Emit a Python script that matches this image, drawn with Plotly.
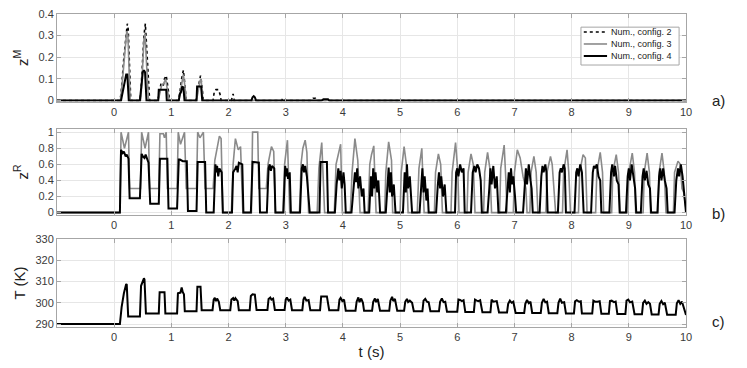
import plotly.graph_objects as go

# ---------------- data ----------------
x_ticks = [0, 1, 2, 3, 4, 5, 6, 7, 8, 9, 10]
zm_ticks = [0, 0.1, 0.2, 0.3, 0.4]
zm_ticklabels = ["0", "0.1", "0.2", "0.3", "0.4"]
zr_ticks = [0, 0.2, 0.4, 0.6, 0.8, 1]
zr_ticklabels = ["0", "0.2", "0.4", "0.6", "0.8", "1"]
t_ticks = [290, 300, 310, 320, 330]

legend_names = ["Num., config. 2", "Num., config. 3", "Num., config. 4"]

# z^M, config 2 (dotted)
zm2 = [(-1, 0), (0.10, 0), (0.12, 0.03), (0.17, 0.2), (0.23, 0.355), (0.245, 0.33), (0.29, 0),
       (0.45, 0), (0.47, 0.05), (0.52, 0.3), (0.545, 0.355), (0.57, 0.25), (0.62, 0),
       (0.76, 0), (0.78, 0.02), (0.82, 0.08), (0.86, 0.07), (0.88, 0.1), (0.91, 0.115), (0.94, 0.06), (0.97, 0),
       (1.12, 0), (1.145, 0.03), (1.18, 0.1), (1.21, 0.14), (1.23, 0.09), (1.26, 0),
       (1.43, 0), (1.45, 0.03), (1.49, 0.1), (1.51, 0.115), (1.53, 0.08), (1.56, 0),
       (1.73, 0), (1.75, 0.04), (1.78, 0.05), (1.82, 0.05), (1.85, 0.03), (1.87, 0),
       (2.05, 0), (2.07, 0.02), (2.08, 0.03), (2.10, 0),
       (2.93, 0), (2.95, 0.01), (2.97, 0),
       (3.45, 0), (3.48, 0.01), (3.52, 0.01), (3.54, 0), (10, 0)]

# z^M, config 3 (grey)
zm3 = [(-1, 0), (0.11, 0), (0.13, 0.05), (0.18, 0.22), (0.22, 0.32), (0.24, 0.3), (0.28, 0),
       (0.46, 0), (0.48, 0.06), (0.52, 0.28), (0.54, 0.31), (0.56, 0.2), (0.60, 0),
       (0.77, 0), (0.79, 0.02), (0.83, 0.07), (0.87, 0.08), (0.90, 0.1), (0.93, 0.05), (0.96, 0),
       (1.13, 0), (1.15, 0.03), (1.19, 0.1), (1.21, 0.12), (1.23, 0.08), (1.26, 0),
       (1.44, 0), (1.46, 0.03), (1.50, 0.09), (1.52, 0.1), (1.55, 0), (10, 0)]

# z^M, config 4 (black)
zm4 = [(-1, 0), (0.12, 0), (0.15, 0.04), (0.19, 0.1), (0.21, 0.12), (0.23, 0.12), (0.255, 0),
       (0.45, 0), (0.47, 0.05), (0.50, 0.13), (0.52, 0.14), (0.54, 0.13), (0.565, 0),
       (0.77, 0), (0.78, 0.05), (0.91, 0.05), (0.92, 0),
       (1.13, 0), (1.15, 0.03), (1.17, 0.04), (1.19, 0.065), (1.21, 0.06), (1.23, 0),
       (1.44, 0), (1.45, 0.065), (1.52, 0.065), (1.54, 0),
       (2.40, 0), (2.42, 0.015), (2.44, 0.02), (2.46, 0.015), (2.48, 0),
       (3.63, 0), (3.66, 0.005), (3.74, 0.005), (3.76, 0), (10, 0)]

# z^R, config 3 (grey)
zr3 = [(-1, 0), (0.10, 0),
       (0.12, 1.0), (0.18, 0.8), (0.25, 1.0), (0.27, 0.3), (0.46, 0.3),
       (0.48, 1.0), (0.54, 0.8), (0.60, 1.0), (0.62, 0.3), (0.78, 0.3),
       (0.80, 0.98), (0.86, 0.98), (0.88, 0.93), (0.91, 1.0), (0.93, 0.3), (1.10, 0.3),
       (1.12, 1.0), (1.16, 0.85), (1.23, 1.0), (1.26, 0.3), (1.44, 0.3),
       (1.46, 1.0), (1.50, 0.93), (1.56, 1.0), (1.59, 0.3), (1.73, 0.3),
       (1.76, 0.65), (1.80, 0.82), (1.84, 0.95), (1.87, 0.92), (1.90, 0), (2.05, 0),
       (2.08, 0.6), (2.12, 0.92), (2.17, 0.78), (2.21, 0.82), (2.25, 0), (2.40, 0),
       (2.42, 1.0), (2.51, 1.0), (2.53, 0.3), (2.66, 0.3),
       (2.69, 0.6), (2.75, 0.82), (2.79, 0.76), (2.82, 0), (2.95, 0),
       (2.98, 0.6), (3.03, 0.9), (3.07, 0), (3.24, 0),
       (3.27, 0.62), (3.30, 0.8), (3.34, 0.9), (3.37, 0.75), (3.40, 0), (3.55, 0),
       (3.58, 0.55), (3.63, 0.87), (3.68, 0), (3.85, 0),
       (3.88, 0.6), (3.91, 0.7), (3.96, 0.85), (3.99, 0), (4.13, 0),
       (4.16, 0.5), (4.21, 0.92), (4.26, 0.65), (4.30, 0), (4.44, 0),
       (4.47, 0.6), (4.50, 0.72), (4.54, 0.83), (4.58, 0), (4.73, 0),
       (4.75, 0.5), (4.80, 0.88), (4.85, 0.65), (4.87, 0), (5.00, 0),
       (5.02, 0.5), (5.07, 0.82), (5.11, 0.6), (5.14, 0), (5.30, 0),
       (5.33, 0.55), (5.38, 0.8), (5.42, 0), (5.60, 0),
       (5.62, 0.5), (5.67, 0.73), (5.71, 0.6), (5.74, 0), (5.89, 0),
       (5.91, 0.5), (5.97, 0.87), (6.01, 0.5), (6.03, 0), (6.17, 0),
       (6.19, 0.5), (6.24, 0.73), (6.28, 0.6), (6.31, 0), (6.46, 0),
       (6.48, 0.5), (6.53, 0.75), (6.57, 0.55), (6.60, 0), (6.74, 0),
       (6.76, 0.55), (6.82, 0.84), (6.85, 0.4), (6.87, 0), (6.98, 0),
       (7.00, 0.5), (7.05, 0.78), (7.10, 0.68), (7.15, 0.45), (7.20, 0.3), (7.22, 0), (7.27, 0),
       (7.29, 0.5), (7.34, 0.7), (7.38, 0.5), (7.41, 0), (7.55, 0),
       (7.57, 0.5), (7.63, 0.7), (7.66, 0.6), (7.69, 0.3), (7.72, 0), (7.84, 0),
       (7.86, 0.5), (7.92, 0.78), (7.95, 0.5), (7.98, 0), (8.12, 0),
       (8.14, 0.5), (8.20, 0.72), (8.24, 0.68), (8.27, 0), (8.42, 0),
       (8.44, 0.5), (8.50, 0.75), (8.54, 0.5), (8.56, 0), (8.70, 0),
       (8.72, 0.5), (8.78, 0.72), (8.82, 0.5), (8.85, 0), (8.98, 0),
       (9.00, 0.5), (9.06, 0.74), (9.10, 0.5), (9.12, 0), (9.25, 0),
       (9.27, 0.5), (9.32, 0.74), (9.36, 0.5), (9.38, 0), (9.51, 0),
       (9.53, 0.5), (9.58, 0.74), (9.62, 0.5), (9.65, 0), (9.78, 0),
       (9.80, 0.5), (9.86, 0.64), (9.90, 0.6), (9.93, 0.3), (9.96, 0.25), (10.0, 0.05)]

# z^R, config 4 (black)
zr4 = [(-1, 0), (0.10, 0),
       (0.12, 0.78), (0.15, 0.74), (0.17, 0.76), (0.20, 0.70), (0.22, 0.72), (0.25, 0.67), (0.27, 0.18), (0.45, 0.18),
       (0.48, 0.73), (0.50, 0.70), (0.53, 0.68), (0.55, 0.72), (0.60, 0.62), (0.63, 0.11), (0.78, 0.11),
       (0.80, 0.67), (0.93, 0.67), (0.95, 0.05), (1.10, 0.05),
       (1.13, 0.66), (1.15, 0.66), (1.20, 0.64), (1.27, 0.64), (1.29, 0.02), (1.44, 0.02),
       (1.46, 0.63), (1.59, 0.63), (1.61, 0), (1.74, 0),
       (1.77, 0.6), (1.79, 0.5), (1.80, 0.58), (1.82, 0.45), (1.84, 0.55), (1.88, 0.5), (1.90, 0), (2.06, 0),
       (2.08, 0.5), (2.12, 0.55), (2.14, 0.58), (2.16, 0.5), (2.18, 0.62), (2.24, 0.6), (2.26, 0), (2.39, 0),
       (2.42, 0.63), (2.53, 0.62), (2.55, 0), (2.67, 0),
       (2.70, 0.55), (2.72, 0.6), (2.74, 0.52), (2.76, 0.58), (2.80, 0.55), (2.82, 0), (2.96, 0),
       (2.99, 0.58), (3.01, 0.45), (3.02, 0.55), (3.04, 0.42), (3.07, 0.5), (3.09, 0), (3.25, 0),
       (3.28, 0.55), (3.30, 0.6), (3.32, 0.5), (3.34, 0.58), (3.37, 0.45), (3.42, 0), (3.59, 0),
       (3.61, 0.63), (3.72, 0.63), (3.74, 0), (3.86, 0),
       (3.89, 0.35), (3.92, 0.55), (3.94, 0.4), (3.96, 0.52), (3.98, 0.3), (4.01, 0.5), (4.03, 0.35), (4.05, 0), (4.15, 0),
       (4.18, 0.3), (4.21, 0.5), (4.23, 0.38), (4.25, 0.55), (4.27, 0.3), (4.30, 0.45), (4.33, 0.2), (4.36, 0.3), (4.38, 0), (4.46, 0),
       (4.49, 0.45), (4.51, 0.2), (4.53, 0.55), (4.55, 0.3), (4.57, 0.5), (4.60, 0.25), (4.62, 0.4), (4.65, 0), (4.75, 0),
       (4.78, 0.3), (4.80, 0.56), (4.82, 0.25), (4.84, 0.5), (4.86, 0.2), (4.89, 0.35), (4.92, 0), (5.05, 0),
       (5.08, 0.5), (5.10, 0.25), (5.12, 0.6), (5.14, 0.3), (5.17, 0.45), (5.19, 0.15), (5.21, 0), (5.34, 0),
       (5.37, 0.4), (5.39, 0.55), (5.41, 0.25), (5.43, 0.45), (5.46, 0.15), (5.48, 0.3), (5.50, 0), (5.63, 0),
       (5.66, 0.35), (5.68, 0.5), (5.70, 0.3), (5.72, 0.45), (5.75, 0.2), (5.78, 0.35), (5.81, 0), (5.96, 0),
       (5.98, 0.5), (6.00, 0.55), (6.02, 0.45), (6.05, 0.6), (6.08, 0.5), (6.11, 0.55), (6.13, 0), (6.24, 0),
       (6.27, 0.5), (6.30, 0.58), (6.32, 0.5), (6.35, 0.6), (6.38, 0.55), (6.41, 0.4), (6.43, 0), (6.53, 0),
       (6.56, 0.3), (6.58, 0.55), (6.60, 0.35), (6.63, 0.58), (6.66, 0.3), (6.69, 0.45), (6.72, 0), (6.85, 0),
       (6.88, 0.3), (6.90, 0.5), (6.92, 0.25), (6.94, 0.55), (6.96, 0.35), (6.98, 0.45), (7.01, 0.2), (7.03, 0), (7.15, 0),
       (7.18, 0.4), (7.20, 0.55), (7.22, 0.35), (7.25, 0.6), (7.28, 0.4), (7.30, 0.3), (7.32, 0), (7.44, 0),
       (7.47, 0.45), (7.49, 0.58), (7.51, 0.5), (7.54, 0.6), (7.56, 0.5), (7.58, 0), (7.76, 0),
       (7.79, 0.5), (7.81, 0.55), (7.83, 0.5), (7.86, 0.6), (7.88, 0.55), (7.90, 0), (8.05, 0),
       (8.08, 0.5), (8.10, 0.55), (8.12, 0.45), (8.15, 0.6), (8.18, 0.5), (8.21, 0), (8.34, 0),
       (8.37, 0.5), (8.39, 0.58), (8.41, 0.55), (8.44, 0.6), (8.47, 0.45), (8.50, 0.4), (8.52, 0), (8.66, 0),
       (8.69, 0.5), (8.71, 0.6), (8.74, 0.45), (8.76, 0.58), (8.79, 0.4), (8.82, 0.35), (8.84, 0), (8.95, 0),
       (8.98, 0.45), (9.00, 0.55), (9.02, 0.4), (9.05, 0.6), (9.08, 0.45), (9.11, 0.3), (9.13, 0), (9.21, 0),
       (9.24, 0.45), (9.26, 0.55), (9.28, 0.4), (9.31, 0.52), (9.34, 0.35), (9.37, 0.3), (9.39, 0), (9.50, 0),
       (9.53, 0.45), (9.55, 0.55), (9.57, 0.4), (9.60, 0.55), (9.63, 0.4), (9.66, 0.3), (9.68, 0), (9.80, 0),
       (9.83, 0.4), (9.86, 0.55), (9.88, 0.45), (9.91, 0.6), (9.94, 0.45), (9.97, 0.25), (10.0, 0)]

# Temperature (K), config 4
temp = [(-1, 290), (0.10, 290), (0.13, 298), (0.17, 304.5), (0.21, 308.8), (0.22, 308.5), (0.245, 293.5), (0.45, 293.5),
        (0.47, 308), (0.52, 311.5), (0.53, 311), (0.555, 295), (0.78, 295),
        (0.795, 305), (0.88, 305), (0.895, 295), (1.10, 295),
        (1.115, 304.5), (1.16, 304.8), (1.18, 307.2), (1.20, 305), (1.22, 304), (1.235, 296), (1.44, 296),
        (1.455, 307.5), (1.51, 307.5), (1.53, 296.5), (1.72, 296.5),
        (1.74, 301.5), (1.76, 302.3), (1.78, 300.8), (1.80, 302), (1.83, 300.5), (1.855, 296.5), (2.03, 296.5),
        (2.05, 301.5), (2.08, 302.2), (2.10, 301), (2.12, 302.2), (2.16, 300.8), (2.18, 296.5), (2.37, 296.5),
        (2.39, 303.2), (2.42, 304), (2.46, 303.8), (2.49, 296.6), (2.68, 296.6),
        (2.70, 301.8), (2.73, 302.5), (2.75, 301.5), (2.78, 302), (2.81, 296.6), (2.98, 296.6),
        (3.00, 301.5), (3.02, 302.5), (3.05, 301), (3.08, 301.5), (3.11, 296.5), (3.29, 296.5),
        (3.31, 301.5), (3.33, 302.8), (3.36, 301), (3.40, 301.3), (3.43, 296.5), (3.60, 296.5),
        (3.62, 303), (3.72, 303), (3.76, 296.5), (3.92, 296.5),
        (3.94, 301.5), (3.96, 302.3), (3.99, 300.8), (4.02, 301.5), (4.05, 296.3), (4.22, 296.3),
        (4.24, 300.5), (4.27, 302.5), (4.29, 300.3), (4.32, 302), (4.35, 300), (4.37, 296.2), (4.51, 296.2),
        (4.53, 300.5), (4.56, 302), (4.58, 300.3), (4.61, 301.8), (4.65, 296.2), (4.81, 296.2),
        (4.83, 301), (4.86, 302.8), (4.88, 300.8), (4.91, 301.8), (4.95, 296.2), (5.07, 296.2),
        (5.09, 300.5), (5.12, 301.8), (5.14, 300.3), (5.17, 301), (5.21, 300), (5.24, 296), (5.39, 296),
        (5.41, 301), (5.44, 301.8), (5.47, 300.5), (5.50, 300.2), (5.53, 296), (5.68, 296),
        (5.70, 300.5), (5.73, 302), (5.76, 300.3), (5.79, 300.5), (5.82, 295.8), (6.00, 295.8),
        (6.02, 301.5), (6.05, 301.3), (6.08, 300.8), (6.11, 301.2), (6.14, 295.7), (6.29, 295.7),
        (6.31, 301.5), (6.34, 301), (6.37, 300.8), (6.40, 301.2), (6.44, 295.5), (6.58, 295.5),
        (6.60, 301.5), (6.63, 300.5), (6.66, 300.5), (6.69, 300.8), (6.73, 295.4), (6.87, 295.4),
        (6.89, 299.5), (6.92, 301), (6.95, 300), (6.98, 300.5), (7.02, 295.2), (7.17, 295.2),
        (7.19, 299.5), (7.22, 301.3), (7.25, 299.8), (7.28, 300.5), (7.31, 295.2), (7.46, 295.2),
        (7.48, 300), (7.51, 301.8), (7.54, 300.2), (7.57, 300.5), (7.60, 295.1), (7.75, 295.1),
        (7.77, 300), (7.80, 302), (7.83, 300), (7.87, 300.3), (7.90, 295), (8.04, 295),
        (8.06, 300.7), (8.09, 301.2), (8.13, 300.5), (8.16, 300.7), (8.18, 294.9), (8.36, 294.9),
        (8.38, 301), (8.41, 300.5), (8.45, 300.5), (8.49, 300.7), (8.52, 294.8), (8.65, 294.8),
        (8.67, 300.8), (8.70, 301), (8.74, 300.3), (8.77, 300.6), (8.80, 294.7), (8.94, 294.7),
        (8.96, 301), (8.99, 301.5), (9.02, 300.2), (9.06, 300.6), (9.10, 294.6), (9.23, 294.6),
        (9.25, 300), (9.28, 301), (9.31, 299.5), (9.34, 300.3), (9.37, 299.5), (9.40, 294.5), (9.52, 294.5),
        (9.54, 299.5), (9.57, 300.8), (9.60, 299.3), (9.63, 300), (9.67, 294.4), (9.82, 294.4),
        (9.84, 299.8), (9.87, 301.2), (9.90, 299.5), (9.93, 300.5), (9.96, 298), (10.0, 294.3)]

# ---------------- figure ----------------
def xs(p):
    return [a for a, _ in p]

def ys(p):
    return [b for _, b in p]

BLACK = "#000000"
GREY = "#8a8a8a"
styles = [dict(color=BLACK, width=1.6, dash="dot"), dict(color=GREY, width=1.6), dict(color=BLACK, width=2)]

fig = go.Figure()
for series, name, st in zip([zm2, zm3, zm4], legend_names, styles):
    fig.add_trace(go.Scatter(x=xs(series), y=ys(series), mode="lines", name=name,
                             line=st, xaxis="x", yaxis="y", showlegend=False))
fig.add_trace(go.Scatter(x=xs(zr3), y=ys(zr3), mode="lines", showlegend=False,
                         line=dict(color=GREY, width=1.6), xaxis="x2", yaxis="y2"))
fig.add_trace(go.Scatter(x=xs(zr4), y=ys(zr4), mode="lines", showlegend=False,
                         line=dict(color=BLACK, width=2), xaxis="x2", yaxis="y2"))
fig.add_trace(go.Scatter(x=xs(temp), y=ys(temp), mode="lines", showlegend=False,
                         line=dict(color=BLACK, width=2), xaxis="x3", yaxis="y3"))

FONT = "Liberation Sans, Arial, sans-serif"
TICKFONT = dict(family=FONT, size=11, color="#3a3a3a")
TITLEFONT = dict(family=FONT, size=15, color="#222222")
AX = dict(showline=True, linecolor="#a6a6a6", linewidth=1, mirror="ticks", ticks="inside",
          ticklen=4, tickcolor="#a6a6a6", showgrid=True, gridcolor="#e6e6e6", gridwidth=1,
          zeroline=False, tickfont=TICKFONT, automargin=False, ticklabeloverflow="allow")

doms = {"a": [0.7204, 1.0], "b": [0.358, 0.633], "c": [0.0, 0.281]}

# the page body adds an 8 px offset: figure is 739x360 so the plot lands where the reference has it
fig.update_layout(
    width=739, height=360,
    margin=dict(l=49, r=61, t=6, b=41),
    paper_bgcolor="white", plot_bgcolor="white",
    font=dict(family=FONT, color="#222222"),
    showlegend=False,
    xaxis=dict(AX, domain=[0, 1], range=[-1, 10], tickvals=x_ticks, anchor="y"),
    xaxis2=dict(AX, domain=[0, 1], range=[-1, 10], tickvals=x_ticks, anchor="y2"),
    xaxis3=dict(AX, domain=[0, 1], range=[-1, 10], tickvals=x_ticks, anchor="y3",
                title=dict(text="t (s)", font=TITLEFONT, standoff=4)),
    yaxis=dict(AX, domain=doms["a"], range=[-0.005, 0.4], tickvals=zm_ticks, ticktext=zm_ticklabels,
               anchor="x", title=dict(text="z<sup>M</sup>", font=TITLEFONT, standoff=6)),
    yaxis2=dict(AX, domain=doms["b"], range=[-0.029, 1.041], tickvals=zr_ticks, ticktext=zr_ticklabels,
                anchor="x2", title=dict(text="z<sup>R</sup>", font=TITLEFONT, standoff=6)),
    yaxis3=dict(AX, domain=doms["c"], range=[288.6, 330], tickvals=t_ticks,
                anchor="x3", title=dict(text="T (K)", font=TITLEFONT, standoff=6)),
)

# legend box (inside panel a, top right), drawn in paper coordinates
fig.add_shape(type="rect", xref="paper", yref="paper", x0=0.833, x1=0.989, y0=0.837, y1=0.958,
              line=dict(color="#a6a6a6", width=1), fillcolor="white", layer="above")
for i, (name, st) in enumerate(zip(legend_names, styles)):
    yy = 0.9425 - i * 0.0383
    fig.add_shape(type="line", xref="paper", yref="paper", x0=0.8375, x1=0.8745, y0=yy, y1=yy,
                  line=st, layer="above")
    fig.add_annotation(text=name, xref="paper", yref="paper", x=0.8775, y=yy, showarrow=False,
                       xanchor="left", yanchor="middle", font=dict(family=FONT, size=9, color="#222222"))

for lab, yy in [("a)", 0.725), ("b)", 0.364), ("c)", 0.016)]:
    fig.add_annotation(text=lab, xref="paper", yref="paper", x=1.051, y=yy, showarrow=False,
                       font=dict(family=FONT, size=15, color="#222222"), xanchor="center", yanchor="middle")

fig.write_html("out.html")
